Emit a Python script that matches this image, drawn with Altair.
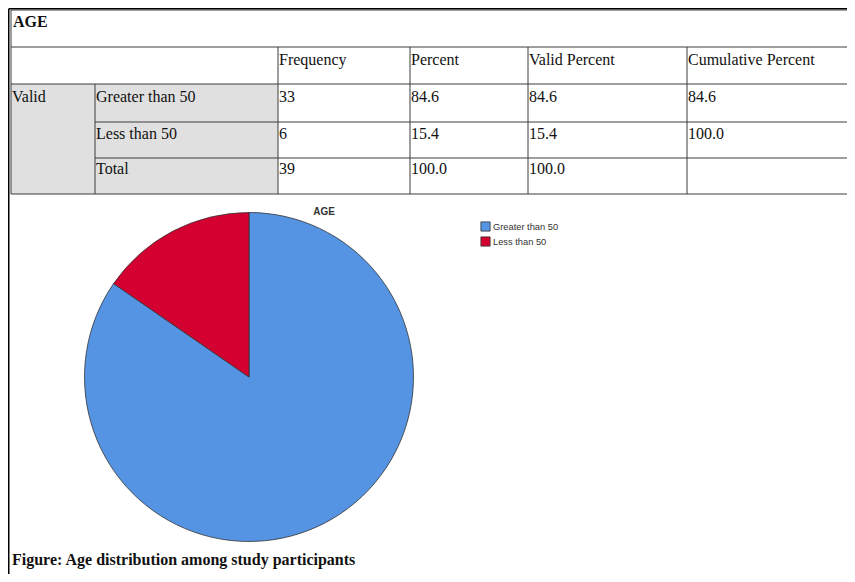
import altair as alt
import pandas as pd

# ---------------- data ----------------
table_title = "AGE"
header_cols = ["Frequency", "Percent", "Valid Percent", "Cumulative Percent"]
group_label = "Valid"
categories = ["Greater than 50", "Less than 50", "Total"]
frequency = ["33", "6", "39"]
percent = ["84.6", "15.4", "100.0"]
valid_percent = ["84.6", "15.4", "100.0"]
cumulative_percent = ["84.6", "100.0", ""]

pie_labels = ["Greater than 50", "Less than 50"]
pie_counts = [33, 6]
pie_colors = ["#5594E2", "#D40030"]

chart_title = "AGE"
caption = "Figure: Age distribution among study participants"

# ---------------- layout ----------------
W, H = 839, 566
col_edges = [3, 87, 270, 402, 520, 679, W]
row_edges = [2, 39, 76, 114, 150, 186]
text_baselines = [57, 94, 130.5, 165.5]   # header row, then 3 data rows
pad_x = 1.0
pie_cx, pie_cy, pie_r = 241, 369, 164.5

X = lambda f: alt.X(f, type="quantitative", scale=alt.Scale(domain=[0, W], nice=False, zero=False), axis=None)
Y = lambda f: alt.Y(f, type="quantitative", scale=alt.Scale(domain=[0, H], nice=False, zero=False, reverse=True), axis=None)

# grey stub fill
fill_df = pd.DataFrame([{"x": col_edges[0], "x2": col_edges[2], "y": row_edges[2], "y2": row_edges[5]}])
fill = alt.Chart(fill_df).mark_rect(color="#E0E0E0").encode(
    x=X("x"), x2="x2", y=Y("y"), y2="y2")

# grid lines
segs = []
for i, y in enumerate(row_edges):
    x0 = col_edges[1] if i in (3, 4) else col_edges[0]
    segs.append({"x": x0, "x2": W, "y": y, "y2": y})
segs.append({"x": col_edges[0], "x2": col_edges[0], "y": row_edges[0], "y2": row_edges[5]})
segs.append({"x": col_edges[1], "x2": col_edges[1], "y": row_edges[2], "y2": row_edges[5]})
for c in col_edges[2:6]:
    segs.append({"x": c, "x2": c, "y": row_edges[1], "y2": row_edges[5]})
grid = alt.Chart(pd.DataFrame(segs)).mark_rule(color="#3c3c3c", strokeWidth=1).encode(
    x=X("x"), x2="x2", y=Y("y"), y2="y2")

# outer frame
frame_df = pd.DataFrame([{"x": 0.75, "x2": W, "y": 0.75, "y2": 0.75},
                         {"x": 0.75, "x2": 0.75, "y": 0.75, "y2": H}])
frame = alt.Chart(frame_df).mark_rule(color="#000000", strokeWidth=1.5).encode(
    x=X("x"), x2="x2", y=Y("y"), y2="y2")

# table text
cells = []
for j, h in enumerate(header_cols):
    cells.append({"x": col_edges[2 + j] + pad_x, "y": text_baselines[0], "t": h})
cells.append({"x": col_edges[0] + pad_x, "y": text_baselines[1], "t": group_label})
for i, cat in enumerate(categories):
    yb = text_baselines[1 + i]
    vals = [cat, frequency[i], percent[i], valid_percent[i], cumulative_percent[i]]
    for j, v in enumerate(vals):
        if v:
            cells.append({"x": col_edges[1 + j] + pad_x, "y": yb, "t": v})
cell_text = alt.Chart(pd.DataFrame(cells)).mark_text(
    align="left", baseline="alphabetic", font="Liberation Serif", fontSize=16, color="#111111"
).encode(x=X("x"), y=Y("y"), text="t:N")

ttl = alt.Chart(pd.DataFrame([{"x": 5, "y": 19, "t": table_title}])).mark_text(
    align="left", baseline="alphabetic", font="Liberation Serif", fontSize=16, fontWeight="bold", color="#111111"
).encode(x=X("x"), y=Y("y"), text="t:N")

cap = alt.Chart(pd.DataFrame([{"x": 4, "y": 557, "t": caption}])).mark_text(
    align="left", baseline="alphabetic", font="Liberation Serif", fontSize=16, fontWeight="bold", color="#111111"
).encode(x=X("x"), y=Y("y"), text="t:N")

ctitle = alt.Chart(pd.DataFrame([{"x": 316, "y": 207, "t": chart_title}])).mark_text(
    align="center", baseline="alphabetic", font="Liberation Sans", fontSize=10, fontWeight="bold", color="#333333"
).encode(x=X("x"), y=Y("y"), text="t:N")

# pie
pie_df = pd.DataFrame({"label": pie_labels, "count": pie_counts, "idx": list(range(len(pie_labels)))})
pie = alt.Chart(pie_df).mark_arc(radius=pie_r, stroke="#333333", strokeWidth=0.8).encode(
    theta=alt.Theta("count:Q", stack=True),
    color=alt.Color("label:N", scale=alt.Scale(domain=pie_labels, range=pie_colors),
                    legend=alt.Legend(title=None, orient="none", legendX=472, legendY=213,
                                      symbolType="square", symbolSize=85,
                                      symbolStrokeColor="#333333", symbolStrokeWidth=0.8,
                                      labelFont="Liberation Sans", labelFontSize=9.3,
                                      labelColor="#333333", labelOffset=2, rowPadding=2,
                                      padding=0)),
    order=alt.Order("idx:Q", sort="ascending"),
    x=alt.value(pie_cx), y=alt.value(pie_cy),
)

chart = alt.layer(frame, fill, grid, cell_text, ttl, ctitle, pie, cap).properties(
    width=W, height=H, autosize=alt.AutoSizeParams(type="none"), padding=0
).configure_view(stroke=None).resolve_scale(x="shared", y="shared")

chart.save("out.html", embed_options={"renderer": "svg", "actions": False})
